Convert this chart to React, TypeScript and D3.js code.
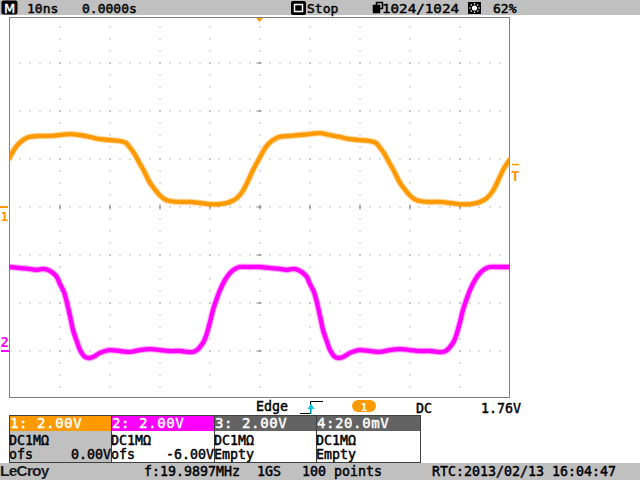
import * as d3 from 'd3';

const FONT = '"DejaVu Sans Mono", monospace';
const ORANGE = '#ff9900';
const MAGENTA = '#ff00ff';
const GRID = '#808080';
const PANEL = '#c0c0c0';

// channel 1 samples: time (ns from trigger), volts
const ch1Time = [-50, -49, -48, -47, -46, -44, -42, -40, -38, -36, -34, -32, -30, -28, -26.7, -26, -25, -24, -23, -22, -21, -20, -19, -18, -16, -14, -12, -10, -8, -6.5, -5.5, -4.5, -3.5, -2.5, -1.3, 0,
  1, 2, 3, 4, 6, 8, 10, 12, 14, 16, 18, 20, 22, 23.3, 24, 25, 26, 27, 28, 29, 30, 31, 32, 34, 36, 38, 40, 42, 43.5, 44.5, 45.5, 46.5, 47.5, 48.7, 50];
const ch1Volt = [2.04, 2.42, 2.67, 2.83, 2.92, 2.96, 2.96, 3.0, 3.04, 3.0, 2.92, 2.83, 2.79, 2.75, 2.67, 2.5, 2.21, 1.83, 1.46, 1.04, 0.75, 0.5, 0.33, 0.25, 0.21, 0.21, 0.17, 0.12, 0.12, 0.17, 0.25, 0.38, 0.62, 1.0, 1.54, 2.04,
  2.42, 2.67, 2.83, 2.92, 2.96, 3.0, 3.04, 3.08, 3.0, 2.92, 2.83, 2.79, 2.75, 2.67, 2.5, 2.21, 1.83, 1.46, 1.04, 0.75, 0.5, 0.33, 0.25, 0.21, 0.21, 0.17, 0.12, 0.12, 0.17, 0.25, 0.38, 0.62, 1.0, 1.54, 1.96];

// channel 2 samples: time (ns from trigger), volts
const ch2Time = [-50, -48, -46, -44.5, -43.3, -42.3, -41.3, -40.5, -40, -39.1, -38.5, -37.9, -37.3, -36.5, -35.9, -35.1, -34.3, -33.3, -31.9, -30.9, -29.9, -27.9, -25.9, -23.9, -21.9, -19.9, -17.9, -15.9, -13.3, -12.5, -11.9, -11.1, -10.5, -9.9, -9.3, -8.5, -7.9, -6.9, -5.9, -4.9, -3.9, -1.9,
  0.1, 2.1, 4.1, 5.5, 6.7, 7.7, 8.7, 9.5, 10, 10.9, 11.5, 12.1, 12.7, 13.5, 14.1, 14.9, 15.7, 16.7, 18.1, 19.1, 20.1, 22.1, 24.1, 26.1, 28.1, 30.1, 32.1, 34.1, 36.7, 37.5, 38.1, 38.9, 39.5, 40.1, 40.7, 41.5, 42.1, 43.1, 44.1, 45.1, 46.1, 48.1, 50];
const ch2Volt = [3.5, 3.46, 3.42, 3.38, 3.42, 3.38, 3.25, 3.08, 2.83, 2.46, 2.0, 1.46, 0.88, 0.38, 0.04, -0.21, -0.29, -0.25, -0.08, 0.0, 0.04, 0.0, -0.04, 0.04, 0.08, 0.04, 0.0, 0.0, -0.04, 0.04, 0.17, 0.42, 0.75, 1.21, 1.71, 2.21, 2.54, 2.96, 3.25, 3.42, 3.5, 3.5,
  3.5, 3.46, 3.42, 3.38, 3.42, 3.38, 3.25, 3.08, 2.83, 2.46, 2.0, 1.46, 0.88, 0.38, 0.04, -0.21, -0.29, -0.25, -0.08, 0.0, 0.04, 0.0, -0.04, 0.04, 0.08, 0.04, 0.0, 0.0, -0.04, 0.04, 0.17, 0.42, 0.75, 1.21, 1.71, 2.21, 2.54, 2.96, 3.25, 3.42, 3.5, 3.5, 3.5];

const timeDivs = [-40, -30, -20, -10, 0, 10, 20, 30, 40];
const voltDivs = [-6, -4, -2, 0, 2, 4, 6];

const channelBoxes = [
  { head: '1: 2.00V', headBg: ORANGE, bodyBg: PANEL, coupling: 'DC1MΩ', third: 'ofs', ofs: '0.00V' },
  { head: '2: 2.00V', headBg: MAGENTA, bodyBg: '#ffffff', coupling: 'DC1MΩ', third: 'ofs', ofs: '-6.00V' },
  { head: '3: 2.00V', headBg: '#636363', bodyBg: '#ffffff', coupling: 'DC1MΩ', third: 'Empty', ofs: '' },
  { head: '4:20.0mV', headBg: '#636363', bodyBg: '#ffffff', coupling: 'DC1MΩ', third: 'Empty', ofs: '' },
];

const W = 640;
const H = 480;
const L = 9.5, R = 509.5, T = 17.5, B = 397.5;

// heavier look, like the scope's bitmap font
const bold = (c: string) => ({ fill: c, stroke: c, strokeWidth: 0.45 });

export default function App() {
  const x = d3.scaleLinear().domain([-50, 50]).range([L, R]);
  const y1 = d3.scaleLinear().domain([-8, 8]).range([399, 15]);
  // ch2 offset -6V: screen centre sits at +6V
  const y2 = d3.scaleLinear().domain([-2, 14]).range([399, 15]);

  const line1 = d3.line<number>().x((_, i) => x(ch1Time[i])).y(v => y1(v)).curve(d3.curveCatmullRom);
  const line2 = d3.line<number>().x((_, i) => x(ch2Time[i])).y(v => y2(v)).curve(d3.curveCatmullRom);

  const minorT = d3.range(-48, 49, 2);
  const minorV = d3.range(-7.5, 7.6, 0.5);

  const boxW = [102, 103, 102, 104];
  let bx = 9;

  return (
    <svg width={W} height={H} style={{ position: 'absolute', left: 0, top: 0, background: '#fff' }} fontFamily={FONT}>
      <defs>
        <clipPath id="plot"><rect x={L} y={T} width={R - L} height={B - T} /></clipPath>
      </defs>

      {/* top status bar */}
      <rect x={0} y={0} width={W} height={15} fill={PANEL} />
      <rect x={1.5} y={0.5} width={16} height={14} rx={2} fill="#000" />
      <text x={9.5} y={12.5} fontSize={13} textAnchor="middle" fontFamily="DejaVu Sans" {...bold('#fff')}>M</text>
      <text x={27} y={12.5} fontSize={13} {...bold('#000')}>10ns</text>
      <text x={82} y={12.5} fontSize={13} {...bold('#000')}>0.0000s</text>
      <rect x={291} y={1} width={15} height={14} rx={2} fill="#000" />
      <rect x={294.5} y={4.5} width={8} height={7} fill="none" stroke="#fff" strokeWidth={1.5} />
      <text x={307} y={12.5} fontSize={13} {...bold('#000')}>Stop</text>
      <rect x={376.5} y={2.5} width={6} height={6} fill="none" stroke="#000" strokeWidth={1.5} />
      <rect x={373.5} y={5.5} width={6} height={7} fill="#000" stroke="#000" strokeWidth={1.5} />
      <text x={382} y={12.5} fontSize={13} textLength={77} lengthAdjust="spacingAndGlyphs" {...bold('#000')}>1024/1024</text>
      <rect x={468} y={2} width={13} height={12} fill="#000" />
      <circle cx={474.5} cy={8} r={2.6} fill="#fff" />
      {[0, 45, 90, 135, 180, 225, 270, 315].map(a => (
        <circle key={a} cx={474.5 + 4.6 * Math.cos((a * Math.PI) / 180)} cy={8 + 4.2 * Math.sin((a * Math.PI) / 180)} r={0.8} fill="#fff" />
      ))}
      <text x={493} y={12.5} fontSize={13} {...bold('#000')}>62%</text>

      {/* graticule */}
      <g fill={GRID}>
        {timeDivs.map(t => minorV.map(v => (
          <rect key={`v${t}_${v}`} x={Math.round(x(t)) - 0.5} y={y1(v) - 0.5} width={1} height={1} />
        )))}
        {voltDivs.map(v => minorT.map(t => (
          <rect key={`h${v}_${t}`} x={Math.round(x(t)) - 0.5} y={y1(v) - 0.5} width={1} height={1} />
        )))}
        {voltDivs.map(v => (
          <rect key={`cv${v}`} x={x(0) - 3} y={y1(v) - 0.5} width={5} height={1} />
        ))}
        {timeDivs.map(t => (
          <rect key={`ct${t}`} x={Math.round(x(t)) - 0.5} y={y1(0) - 2.5} width={1} height={5} />
        ))}
      </g>
      <rect x={L} y={T} width={R - L} height={B - T} fill="none" stroke={GRID} strokeWidth={1} />

      {/* traces */}
      <g clipPath="url(#plot)" fill="none" strokeLinejoin="round" strokeLinecap="round">
        <path d={line1(ch1Volt) ?? ''} stroke={ORANGE} strokeWidth={6.5} opacity={0.35} />
        <path d={line1(ch1Volt) ?? ''} stroke={ORANGE} strokeWidth={4.3} />
        <path d={line2(ch2Volt) ?? ''} stroke={MAGENTA} strokeWidth={6.5} opacity={0.35} />
        <path d={line2(ch2Volt) ?? ''} stroke={MAGENTA} strokeWidth={4.3} />
      </g>

      {/* trigger position, channel & level markers */}
      <path d={`M${x(0) - 3.5},18 L${x(0) + 3.5},18 L${x(0)},22 Z`} fill={ORANGE} />
      <rect x={0} y={y1(0) - 1} width={8} height={2} fill={ORANGE} />
      <text x={0.5} y={221} fontSize={13} fontWeight="bold" fill={ORANGE}>1</text>
      <text x={0.5} y={347} fontSize={14} fontWeight="bold" fill={MAGENTA}>2</text>
      <rect x={1} y={y2(0) - 1} width={8} height={2} fill={MAGENTA} />
      <rect x={512} y={y1(1.76) - 1} width={7} height={1.5} fill={ORANGE} />
      <text x={511} y={181} fontSize={14} fontWeight="bold" fill={ORANGE}>T</text>

      {/* trigger info row */}
      <text x={256} y={411} fontSize={13.3} {...bold('#000')}>Edge</text>
      <path d="M300,413.5 H310.5 V401.5 H323" fill="none" stroke="#000" strokeWidth={1} />
      <path d="M311,414 V406" stroke="#00c8e0" strokeWidth={1.5} />
      <path d="M307.5,409 L314.5,409 L311,403.5 Z" fill="#00c8e0" />
      <rect x={352} y={400} width={24} height={12} rx={6} fill={ORANGE} />
      <text x={364} y={410.5} fontSize={11} fontWeight="bold" fill="#fff" textAnchor="middle">1</text>
      <text x={416} y={412.5} fontSize={13.3} {...bold('#000')}>DC</text>
      <text x={481} y={412.5} fontSize={13.3} {...bold('#000')}>1.76V</text>

      {/* channel boxes */}
      {channelBoxes.map((c, i) => {
        const x0 = bx;
        const w = boxW[i];
        bx += w;
        return (
          <g key={c.head}>
            <rect x={x0} y={415} width={w} height={16} fill={c.headBg} />
            <rect x={x0} y={431} width={w} height={31.5} fill={c.bodyBg} />
            <rect x={x0 + 0.5} y={415.5} width={w} height={47} fill="none" stroke="#404040" strokeWidth={1} />
            <text x={x0 + 1} y={428} fontSize={14} letterSpacing={0.6} {...bold('#fff')}>{c.head}</text>
            <text x={x0} y={445} fontSize={13.3} {...bold('#000')}>{c.coupling}</text>
            <text x={x0} y={459} fontSize={13.3} {...bold('#000')}>{c.third}</text>
            {c.ofs && <text x={x0 + w} y={459} fontSize={13.3} textAnchor="end" {...bold('#000')}>{c.ofs}</text>}
          </g>
        );
      })}

      {/* bottom status bar */}
      <rect x={0} y={463} width={W} height={17} fill={PANEL} />
      <text x={0} y={476} fontSize={15.5} fontWeight="bold" fill="#1a1a1a" fontFamily="Liberation Sans" letterSpacing={-0.8}>LeCroy</text>
      <text x={144} y={476} fontSize={13.3} {...bold('#000')}>f:19.9897MHz</text>
      <text x={257} y={476} fontSize={13.3} {...bold('#000')}>1GS</text>
      <text x={302} y={476} fontSize={13.3} {...bold('#000')}>100 points</text>
      <text x={432} y={476} fontSize={13.3} {...bold('#000')}>RTC:2013/02/13 16:04:47</text>
    </svg>
  );
}
